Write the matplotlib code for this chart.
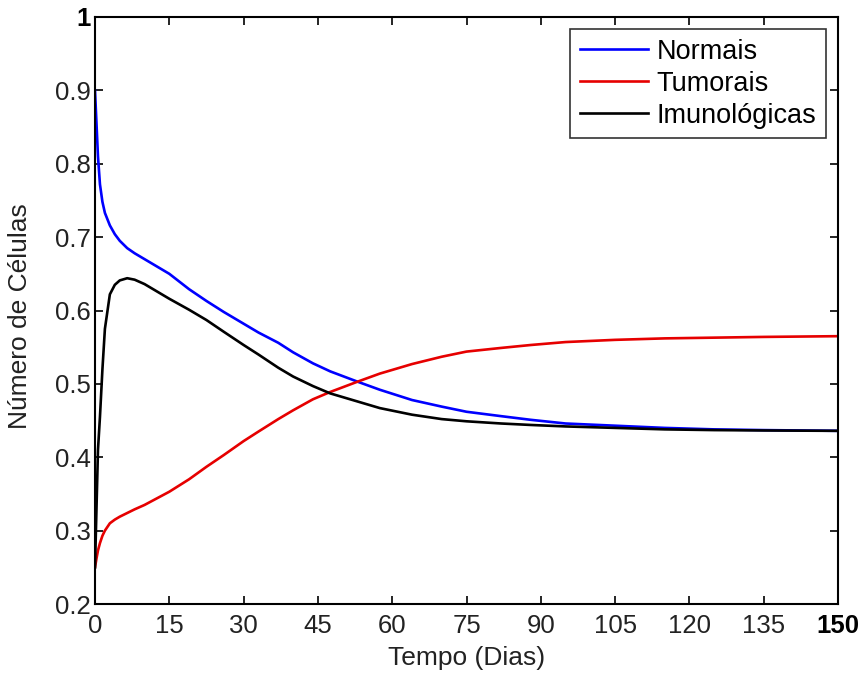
import matplotlib
matplotlib.use('Agg')
import matplotlib.pyplot as plt

# values
t = [0, 0.3, 0.6, 1, 1.5, 2, 3, 4, 5, 6.5, 8, 10, 12.5, 15, 19, 22.5, 26, 30, 33,
     37, 40, 44, 47.5, 53, 57.5, 64, 70, 75, 82, 88, 95, 105, 115, 125, 135, 150]

normais = [0.900, 0.855, 0.810, 0.772, 0.748, 0.733, 0.716, 0.704, 0.695, 0.685,
           0.678, 0.670, 0.660, 0.650, 0.629, 0.613, 0.598, 0.582, 0.570, 0.556,
           0.543, 0.528, 0.517, 0.503, 0.492, 0.478, 0.469, 0.462, 0.456, 0.451,
           0.446, 0.443, 0.440, 0.438, 0.437, 0.436]

tumorais = [0.250, 0.262, 0.273, 0.283, 0.293, 0.300, 0.310, 0.315, 0.319, 0.324,
            0.329, 0.335, 0.344, 0.353, 0.370, 0.387, 0.403, 0.422, 0.435, 0.452,
            0.464, 0.479, 0.489, 0.503, 0.514, 0.527, 0.537, 0.544, 0.549, 0.553,
            0.557, 0.560, 0.562, 0.563, 0.564, 0.565]

imuno = [0.250, 0.330, 0.410, 0.455, 0.520, 0.575, 0.622, 0.635, 0.641, 0.644,
         0.642, 0.636, 0.626, 0.616, 0.601, 0.587, 0.571, 0.553, 0.540, 0.522,
         0.510, 0.497, 0.487, 0.476, 0.467, 0.458, 0.452, 0.449, 0.446, 0.444,
         0.442, 0.440, 0.438, 0.437, 0.4365, 0.436]

labels = ["Normais", "Tumorais", "Imunológicas"]
xticks = list(range(0, 151, 15))
yticks = [0.2, 0.3, 0.4, 0.5, 0.6, 0.7, 0.8, 0.9, 1.0]
ytick_labels = ["0.2", "0.3", "0.4", "0.5", "0.6", "0.7", "0.8", "0.9", "1"]

plt.rcParams['font.family'] = ['Liberation Sans', 'DejaVu Sans']
fs = 18.5
txt = '#222222'

fig = plt.figure(figsize=(8.65, 6.77), dpi=100)
ax = fig.add_axes([95 / 865, 73 / 677, 743 / 865, 587 / 677])

ax.plot(t, normais, color=(0, 0, 1), lw=1.9, label=labels[0])
ax.plot(t, tumorais, color=(0.9, 0, 0), lw=1.9, label=labels[1])
ax.plot(t, imuno, color='k', lw=1.9, label=labels[2])

ax.set_xlim(0, 150)
ax.set_ylim(0.2, 1.0)
ax.set_xticks(xticks)
ax.set_xticklabels([str(v) for v in xticks], fontsize=fs, color=txt)
ax.set_yticks(yticks)
ax.set_yticklabels(ytick_labels, fontsize=fs, color=txt)
# matlab export made the end labels bold
ax.get_xticklabels()[-1].set_fontweight('bold')
ax.get_xticklabels()[-1].set_color('k')
ax.get_yticklabels()[-1].set_fontweight('bold')
ax.get_yticklabels()[-1].set_color('k')

ax.tick_params(direction='in', length=5.5, width=1.2, top=True, right=True)
ax.tick_params(axis='x', pad=7.5)
ax.tick_params(axis='y', pad=3)
for s in ax.spines.values():
    s.set_linewidth(1.5)

ax.set_xlabel("Tempo (Dias)", fontsize=19, color=txt, va='center')
ax.set_ylabel("Número de Células", fontsize=19, color=txt, va='center')
ax.xaxis.set_label_coords(0.5, (677 - 658 - 73) / 587)
ax.yaxis.set_label_coords((20 - 95) / 743, 0.49)

leg = ax.legend(loc='upper right', fontsize=19.5, frameon=True, fancybox=False,
                handlelength=2.5, handletextpad=0.33, borderpad=0.35,
                labelspacing=0.22, borderaxespad=0.45)
leg.get_frame().set_edgecolor('k')
leg.get_frame().set_linewidth(1.2)

fig.savefig("out.png", dpi=100)
plt.close(fig)
